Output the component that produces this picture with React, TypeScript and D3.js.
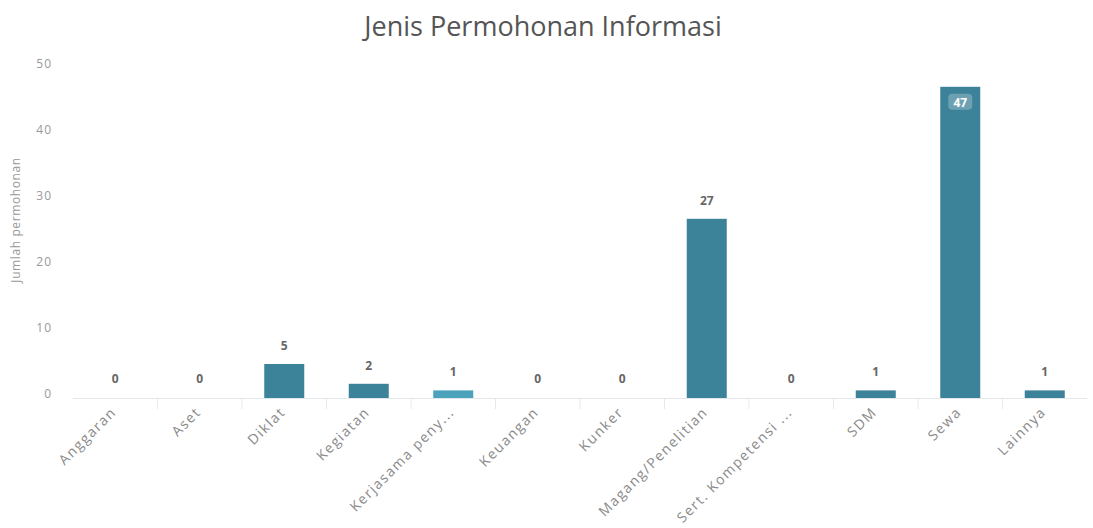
import React from "react";
import * as d3 from "d3";

const categories = ["Anggaran", "Aset", "Diklat", "Kegiatan", "Kerjasama peny...", "Keuangan", "Kunker", "Magang/Penelitian", "Sert. Kompetensi ...", "SDM", "Sewa", "Lainnya"];
const values = [0, 0, 5, 2, 1, 0, 0, 27, 0, 1, 47, 1];
const yTicks = [0, 10, 20, 30, 40, 50];

const W = 1093, H = 528;
const font = "'Open Sans', 'Noto Sans', sans-serif";

export default function App() {
  const x = d3.scaleBand<string>().domain(categories).range([73, 1087]).paddingInner(0).paddingOuter(0);
  const y = d3.scaleLinear().domain([0, 50]).range([397, 67]);
  const bw = 40;
  return (
    <svg width={W} height={H} style={{ position: "absolute", left: 0, top: 0, background: "#fff" }} fontFamily={font}>
      <text x={543} y={36} textAnchor="middle" fontSize={27} fill="#555">Jenis Permohonan Informasi</text>
      <text transform={`translate(20,220) rotate(-90)`} textAnchor="middle" fontSize={12} letterSpacing={0.6} fill="#999">Jumlah permohonan</text>
      {yTicks.map(t => (
        <text key={t} x={52} y={y(t) + 1} textAnchor="end" fontSize={12} letterSpacing={1} fill="#999">{t}</text>
      ))}
      <line x1={73} x2={1087} y1={y(0) + 1.5} y2={y(0) + 1.5} stroke="#e3e6ea" strokeWidth={1} />
      {categories.map((c, i) => i > 0 ? (
        <line key={"t" + c} x1={x(c)!} x2={x(c)!} y1={y(0) + 2} y2={y(0) + 12} stroke="#e6e9ee" />
      ) : null)}
      {categories.map((c, i) => {
        const cx = x(c)! + x.bandwidth() / 2;
        const v = values[i];
        const top = y(v);
        const inside = v >= 45;
        return (
          <g key={c}>
            {v > 0 && <rect x={cx - bw / 2} y={top} width={bw} height={y(0) - top + 1} fill={i === 4 ? "#4aa3bb" : "#3c8299"} />}
            {inside && <rect x={cx - 12} y={top + 7} width={24} height={16} rx={4} fill="#ffffff" opacity={0.25} />}
            <text x={cx} y={inside ? top + 20 : top - 14} textAnchor="middle" fontSize={12} fontWeight="bold"
              fill={inside ? "#fff" : "#666"}>{v}</text>
            <text transform={`translate(${cx + 2},${y(0) + 16}) rotate(-45)`} textAnchor="end" fontSize={14} letterSpacing={1.5} fill="#8a8a8a">{c}</text>
          </g>
        );
      })}
    </svg>
  );
}
